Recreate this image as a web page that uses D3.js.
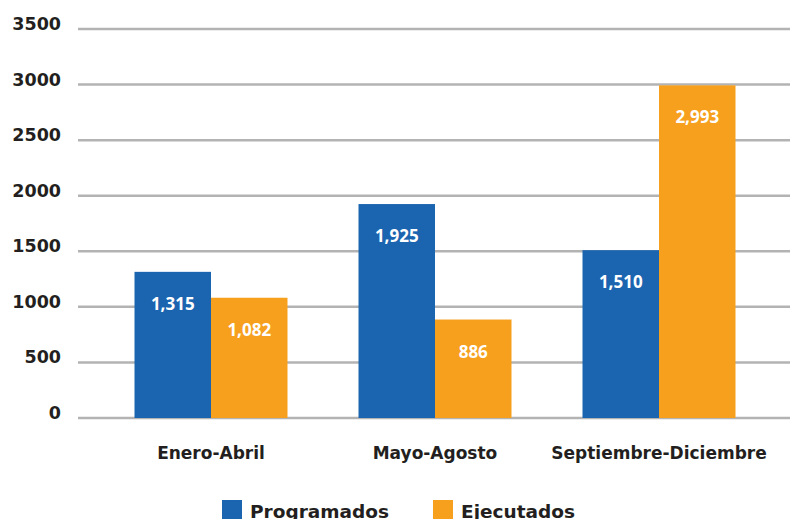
<!DOCTYPE html>
<html>
<head>
<meta charset="utf-8">
<script src="https://cdn.jsdelivr.net/npm/d3@7"></script>
<style>
  body { margin: 0; background: #fff; }
  svg { display: block; font-family: "DejaVu Sans", sans-serif; font-weight: bold; }
</style>
</head>
<body>
<svg id="chart" width="790" height="519"></svg>
<script>
const categories = ['Enero-Abril', 'Mayo-Agosto', 'Septiembre-Diciembre'];
const seriesNames = ['Programados', 'Ejecutados'];
const programados = [1315, 1925, 1510];
const ejecutados = [1082, 886, 2993];
const yTicks = [0, 500, 1000, 1500, 2000, 2500, 3000, 3500];

const colors = ['#1b64b0', '#f6a01e'];
const textColor = '#231f20';

const svg = d3.select('#chart');

const x = d3.scaleBand()
  .domain(categories)
  .range([99, 771])
  .paddingInner(0.317)
  .paddingOuter(0.1585);

const x1 = d3.scaleBand()
  .domain(seriesNames)
  .range([0, x.bandwidth()]);

const y = d3.scaleLinear()
  .domain([0, 3500])
  .range([418, 29]);

// gridlines
svg.append('g')
  .selectAll('line')
  .data(yTicks)
  .enter()
  .append('line')
  .attr('x1', 78)
  .attr('x2', 790)
  .attr('y1', d => y(d))
  .attr('y2', d => y(d))
  .attr('stroke', '#b3b3b3')
  .attr('stroke-width', 2.5);

// y tick labels
svg.append('g')
  .selectAll('text')
  .data(yTicks)
  .enter()
  .append('text')
  .attr('x', 61)
  .attr('y', d => y(d) + 1)
  .attr('text-anchor', 'end')
  .attr('font-size', 17.5)
  .attr('fill', textColor)
  .text(d => d);

const data = categories.map((c, i) => ({
  category: c,
  values: [programados[i], ejecutados[i]]
}));

const groups = svg.append('g')
  .selectAll('g')
  .data(data)
  .enter()
  .append('g')
  .attr('transform', d => `translate(${x(d.category)},0)`);

groups.selectAll('rect')
  .data(d => d.values.map((v, j) => ({name: seriesNames[j], value: v, j})))
  .enter()
  .append('rect')
  .attr('x', d => x1(d.name))
  .attr('width', x1.bandwidth())
  .attr('y', d => y(d.value))
  .attr('height', d => y(0) - y(d.value))
  .attr('fill', d => colors[d.j]);

groups.selectAll('text.val')
  .data(d => d.values.map((v, j) => ({name: seriesNames[j], value: v, j})))
  .enter()
  .append('text')
  .attr('class', 'val')
  .attr('x', d => x1(d.name) + x1.bandwidth() / 2)
  .attr('y', d => y(d.value) + 38)
  .attr('text-anchor', 'middle')
  .attr('font-family', '"Open Sans", sans-serif')
  .attr('font-size', 17)
  .attr('fill', '#fff')
  .text(d => d3.format(',')(d.value));

// category labels
svg.append('g')
  .selectAll('text')
  .data(categories)
  .enter()
  .append('text')
  .attr('x', d => x(d) + x.bandwidth() / 2)
  .attr('y', 459)
  .attr('text-anchor', 'middle')
  .attr('font-size', 17)
  .attr('fill', textColor)
  .text(d => d);

// legend
const legendX = [222, 433];
const legend = svg.append('g')
  .selectAll('g')
  .data(seriesNames)
  .enter()
  .append('g')
  .attr('transform', (d, i) => `translate(${legendX[i]},500)`);

legend.append('rect')
  .attr('width', 20)
  .attr('height', 20)
  .attr('fill', (d, i) => colors[i]);

legend.append('text')
  .attr('x', 28)
  .attr('y', 18)
  .attr('font-size', 18.5)
  .attr('fill', textColor)
  .text(d => d);
</script>
</body>
</html>
